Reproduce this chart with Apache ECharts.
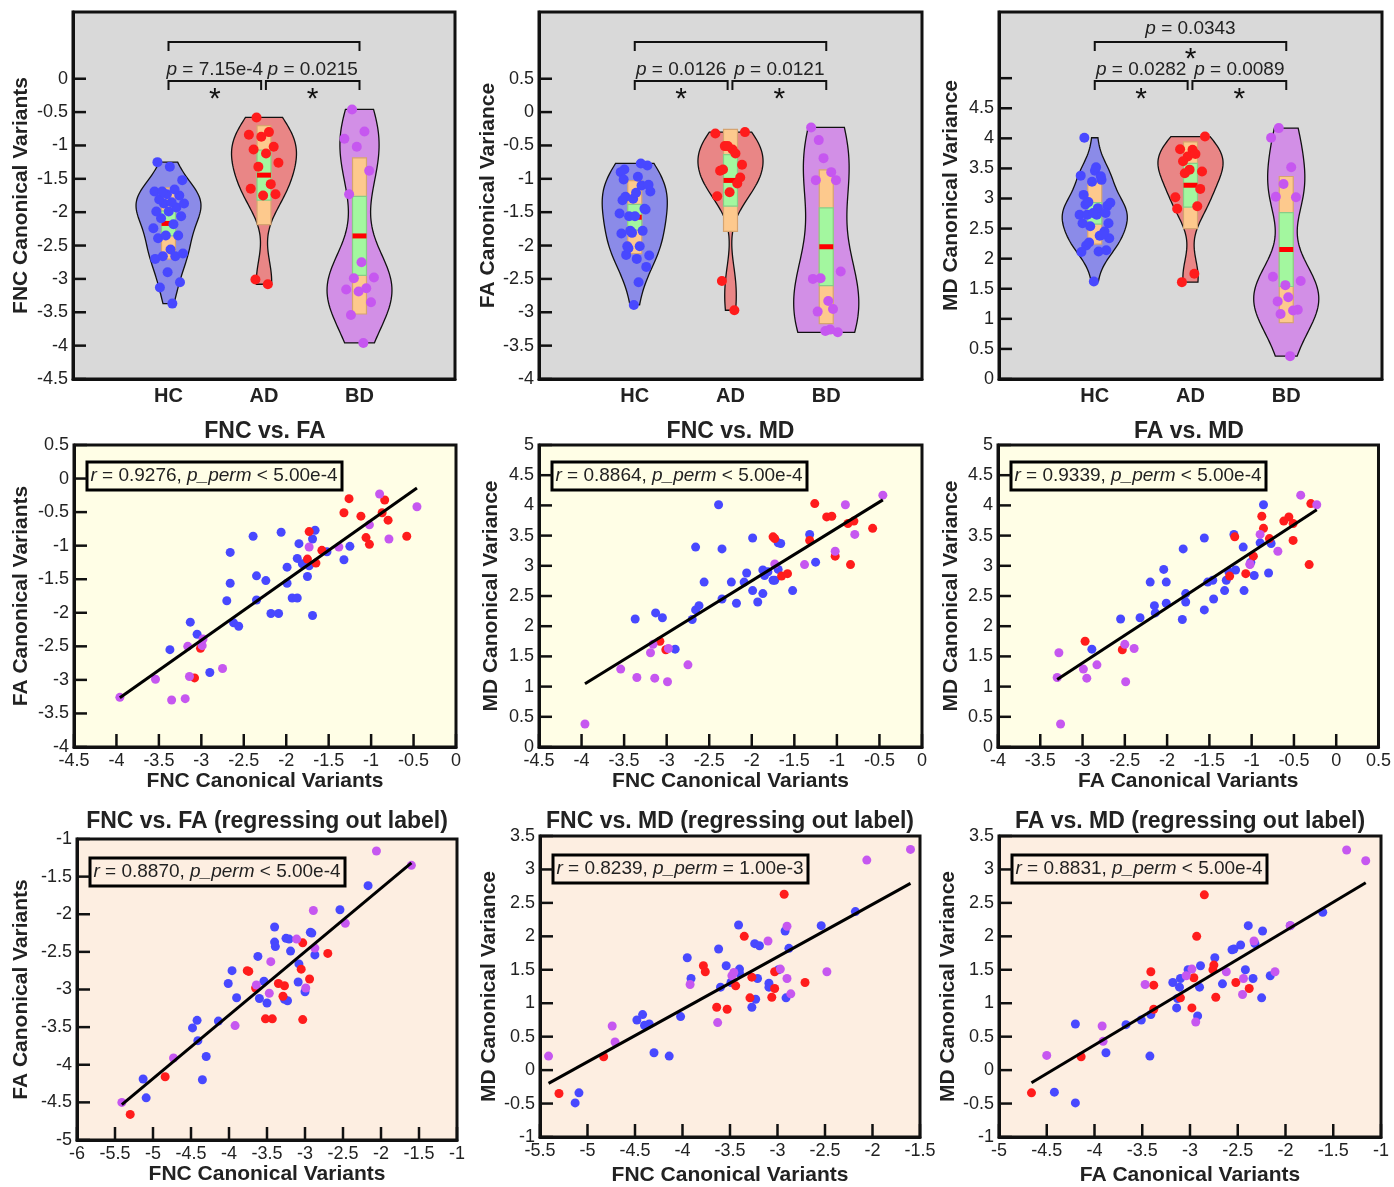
<!DOCTYPE html>
<html>
<head>
<meta charset="utf-8">
<script src="https://cdn.jsdelivr.net/npm/echarts@6/dist/echarts.min.js"></script>
<style>
  html, body { margin: 0; padding: 0; background: #fff; }
  #chart { width: 1394px; height: 1187px; }
</style>
</head>
<body>
<div id="chart"></div>
<script>
// ---- canonical variants per subject ----
const groupNames = ['HC', 'AD', 'BD'];

const hcFNC = [-3.37,-3.13,-3.05,-2.90,-2.70,-2.66,-2.66,-2.62,-2.56,-2.39,-2.35,-2.35,-2.24,-2.18,-2.09,-2.06,-1.99,-1.99,-1.93,-1.87,-1.87,-1.85,-1.81,-1.75,-1.73,-1.69,-1.66,-1.69,-1.52,-1.32,-1.25];
const hcFA  = [-2.55,-2.14,-2.32,-2.89,-1.82,-1.10,-1.56,-2.15,-2.20,-0.86,-1.45,-1.81,-1.52,-2.01,-2.01,-0.80,-1.56,-1.32,-1.78,-1.78,-1.19,-0.97,-1.27,-1.46,-1.30,-0.90,-0.77,-2.04,-1.09,-1.21,-1.01];
const hcMD  = [2.12,2.22,2.14,1.62,2.11,3.31,2.27,2.34,2.73,4.01,2.45,3.28,2.73,2.38,2.73,2.88,3.46,2.59,2.40,2.54,2.93,2.84,2.90,2.76,2.76,3.38,3.37,2.94,2.59,3.52,3.06];

const adFNC = [-3.08,-3.01,-1.73,-1.75,-1.65,-1.58,-1.32,-1.26,-1.12,-1.06,-1.02,-0.87,-0.84,-0.80,-0.58];
const adFA  = [-2.97,-2.53,-0.79,-1.20,-1.26,-1.07,-0.51,-0.30,-0.56,-0.88,-0.98,-0.51,-0.32,-0.62,-0.86];
const adMD  = [1.75,1.61,3.45,3.48,2.83,2.87,3.42,4.03,3.81,3.82,3.16,3.70,3.02,3.74,3.62];

const bdFNC = [-3.96,-3.54,-3.35,-3.19,-3.16,-3.14,-2.99,-2.98,-2.75,-1.73,-1.38,-1.02,-0.90,-0.79,-0.46];
const bdFA  = [-3.26,-2.99,-3.30,-3.28,-2.50,-2.95,-2.49,-2.39,-2.83,-1.02,-1.02,-0.69,-0.23,-0.90,-0.42];
const bdMD  = [0.38,1.29,1.15,1.56,1.70,1.14,1.08,1.63,1.36,3.03,3.02,3.24,4.01,3.52,4.17];

// ---- after regressing out label: [x, y] pairs ----
const hcFncFaR = [[-5.13,-4.19],[-5.09,-4.44],[-4.48,-3.51],[-4.42,-3.41],[-4.41,-3.68],[-4.35,-4.20],[-4.30,-3.89],[-4.14,-3.42],[-4.01,-2.92],[-3.96,-2.75],[-3.90,-3.11],[-3.62,-2.56],[-3.60,-3.12],[-3.54,-2.89],[-3.50,-3.18],[-3.40,-2.17],[-3.40,-2.37],[-3.39,-2.43],[-3.25,-2.32],[-3.21,-2.33],[-3.27,-3.13],[-3.23,-3.15],[-3.19,-2.49],[-3.08,-2.66],[-3.09,-2.90],[-3.00,-3.03],[-2.93,-2.24],[-2.91,-2.25],[-2.87,-2.54],[-2.54,-1.94],[-2.17,-1.62]];
const adFncFaR = [[-5.30,-4.66],[-4.84,-4.16],[-3.76,-2.75],[-3.74,-2.76],[-3.65,-2.98],[-3.52,-3.39],[-3.43,-3.39],[-3.35,-2.92],[-3.27,-2.95],[-3.29,-3.09],[-3.03,-2.38],[-3.05,-2.73],[-3.03,-3.40],[-2.94,-2.86],[-2.70,-2.52]];
const bdFncFaR = [[-5.41,-4.50],[-4.73,-3.91],[-3.92,-3.48],[-3.64,-2.94],[-3.45,-2.63],[-3.47,-3.05],[-3.11,-2.33],[-2.99,-2.98],[-2.89,-1.95],[-2.87,-2.45],[-2.47,-2.12],[-2.06,-1.16],[-1.60,-1.35]];

const hcFncMdR = [[-5.13,-0.49],[-5.09,-0.34],[-4.48,0.75],[-4.42,0.83],[-4.40,0.67],[-4.35,0.69],[-4.30,0.26],[-4.14,0.21],[-4.02,0.80],[-3.95,1.68],[-3.91,1.37],[-3.62,1.81],[-3.60,1.24],[-3.54,1.56],[-3.49,1.31],[-3.41,2.17],[-3.40,1.51],[-3.40,1.45],[-3.24,1.89],[-3.19,1.86],[-3.27,0.94],[-3.23,1.06],[-3.21,1.37],[-3.09,1.30],[-3.09,1.24],[-2.99,1.50],[-2.92,2.08],[-2.91,1.08],[-2.88,1.82],[-2.54,2.16],[-2.18,2.37]];
const adFncMdR = [[-5.30,-0.35],[-4.83,0.20],[-3.78,1.56],[-3.76,1.47],[-3.64,0.94],[-3.53,0.91],[-3.44,1.26],[-3.35,2.00],[-3.29,1.08],[-3.27,1.39],[-3.06,1.09],[-3.03,1.47],[-3.03,1.22],[-2.93,2.63],[-2.71,1.31]];
const bdFncMdR = [[-5.41,0.21],[-4.74,0.66],[-4.71,0.42],[-3.92,1.28],[-3.63,0.71],[-3.48,1.41],[-3.46,1.46],[-3.10,1.93],[-2.97,1.51],[-2.90,2.15],[-2.90,1.37],[-2.86,1.14],[-2.48,1.47],[-2.06,3.14],[-1.60,3.30]];

const hcFaMdR = [[-4.42,-0.33],[-4.20,-0.49],[-4.20,0.69],[-3.88,0.26],[-3.67,0.68],[-3.51,0.75],[-3.42,0.21],[-3.41,0.83],[-3.18,1.31],[-3.14,0.93],[-3.13,1.07],[-3.11,1.24],[-3.10,1.37],[-3.02,1.50],[-2.92,0.81],[-2.90,1.24],[-2.89,1.56],[-2.74,1.68],[-2.66,1.29],[-2.56,1.80],[-2.54,1.81],[-2.47,1.87],[-2.42,1.50],[-2.39,2.16],[-2.34,1.37],[-2.32,1.89],[-2.25,1.08],[-2.24,2.08],[-2.16,1.41],[-1.95,2.16],[-1.61,2.36]];
const adFaMdR = [[-4.66,-0.34],[-4.14,0.20],[-3.41,1.47],[-3.38,1.27],[-3.38,0.91],[-3.10,1.08],[-2.98,0.93],[-2.96,1.38],[-2.93,2.00],[-2.85,2.62],[-2.75,1.57],[-2.76,1.50],[-2.73,1.09],[-2.52,1.31],[-2.38,1.22]];
const bdFaMdR = [[-4.50,0.22],[-3.92,0.66],[-3.91,0.43],[-3.47,1.28],[-3.04,1.41],[-2.98,1.51],[-2.94,0.72],[-2.62,1.47],[-2.44,1.37],[-2.45,1.13],[-2.33,1.93],[-2.11,1.47],[-1.95,2.16],[-1.36,3.29],[-1.16,3.13]];

// group comparison p values (shown above the violins)
const fncPvals = ['7.15e-4', '0.0215', null];
const faPvals  = ['0.0126', '0.0121', null];
const mdPvals  = ['0.0282', '0.0089', '0.0343'];

const corrText = [
  '{i|r} = 0.9276, {i|p_perm} < 5.00e-4',
  '{i|r} = 0.8864, {i|p_perm} < 5.00e-4',
  '{i|r} = 0.9339, {i|p_perm} < 5.00e-4',
  '{i|r} = 0.8870, {i|p_perm} < 5.00e-4',
  '{i|r} = 0.8239, {i|p_perm} = 1.00e-3',
  '{i|r} = 0.8831, {i|p_perm} < 5.00e-4'
];

// ---- styling ----
const FONT = '"Liberation Sans", Arial, Helvetica, sans-serif';
const POINT = ['#4848ff', '#ff1c1c', '#c657f0'];
const VIOLIN = ['#8b8be8', '#e98686', '#d28fe6'];
const INK = '#111';

const grids = [
  { left: 73,  top: 12,  width: 382, height: 367, bg: '#d9d9d9' },
  { left: 539, top: 12,  width: 383, height: 367, bg: '#d9d9d9' },
  { left: 999, top: 12,  width: 383, height: 367, bg: '#d9d9d9' },
  { left: 74,  top: 445, width: 382, height: 302, bg: '#fffee6' },
  { left: 539, top: 445, width: 383, height: 302, bg: '#fffee6' },
  { left: 998, top: 445, width: 382, height: 302, bg: '#fffee6' },
  { left: 77,  top: 839, width: 380, height: 301, bg: '#fdeee1' },
  { left: 540, top: 836, width: 380, height: 301, bg: '#fdeee1' },
  { left: 999, top: 836, width: 382, height: 302, bg: '#fdeee1' }
];

const steps = (a, b) => { const r = []; for (let v = a; v <= b + 1e-9; v += 0.5) r.push(+v.toFixed(2)); return r; };

// ---- helpers ----
function median(a) {
  const s = [...a].sort((x, y) => x - y), m = s.length >> 1;
  return s.length % 2 ? s[m] : (s[m - 1] + s[m]) / 2;
}
function stats(v) {
  const n = v.length;
  const mean = v.reduce((a, b) => a + b, 0) / n;
  const sd = Math.sqrt(v.reduce((a, b) => a + (b - mean) ** 2, 0) / (n - 1));
  return { mean, sd, ci: 1.96 * sd / Math.sqrt(n) };
}
function kde(v) {
  const n = v.length, med = median(v);
  const sig = median(v.map(x => Math.abs(x - med))) / 0.6745;
  const h = sig * Math.pow(4 / (3 * n), 0.2);
  const lo = Math.min(...v), hi = Math.max(...v), out = [];
  for (let k = 0; k <= 80; k++) {
    const y = lo + (hi - lo) * k / 80;
    let d = 0;
    for (const x of v) d += Math.exp(-0.5 * ((y - x) / h) ** 2);
    out.push([y, d]);
  }
  const m = Math.max(...out.map(o => o[1]));
  return out.map(([y, d]) => [y, d / m]);
}
function fit(points) {
  const n = points.length;
  const mx = points.reduce((a, p) => a + p[0], 0) / n;
  const my = points.reduce((a, p) => a + p[1], 0) / n;
  let sxy = 0, sxx = 0;
  points.forEach(([x, y]) => { sxy += (x - mx) * (y - my); sxx += (x - mx) ** 2; });
  const b = sxy / sxx, a = my - b * mx;
  const xs = points.map(p => p[0]);
  const x0 = Math.min(...xs), x1 = Math.max(...xs);
  return [[x0, a + b * x0], [x1, a + b * x1]];
}

const labelStyle = () => ({ fontSize: 18, fontFamily: FONT, color: '#222' });
const nameStyle = () => ({ fontSize: 21, fontWeight: 'bold', fontFamily: FONT, color: '#222' });
const frameLine = () => ({ show: true, onZero: false, lineStyle: { color: INK, width: 3 } });

function yAxis(gi, min, max, name, nameGap, labels) {
  return {
    type: 'value', gridIndex: gi, min, max, name, nameLocation: 'middle', nameGap,
    nameTextStyle: nameStyle(), axisLine: frameLine(), splitLine: { show: false }, axisTick: { show: false },
    axisLabel: Object.assign({ customValues: labels, margin: 5 }, labelStyle())
  };
}
function xAxis(gi, min, max, name, nameGap) {
  return {
    type: 'value', gridIndex: gi, min, max, name, nameLocation: 'middle', nameGap,
    nameTextStyle: nameStyle(), axisLine: frameLine(), splitLine: { show: false }, axisTick: { show: false },
    axisLabel: Object.assign({ customValues: steps(min, max), margin: 5 }, labelStyle())
  };
}
function groupAxis(gi) {
  return {
    type: 'value', gridIndex: gi, min: 0, max: 4,
    axisLine: frameLine(), splitLine: { show: false }, axisTick: { show: false },
    axisLabel: { customValues: [1, 2, 3], formatter: v => groupNames[v - 1], margin: 7,
      fontSize: 20, fontWeight: 'bold', fontFamily: FONT, color: '#222' }
  };
}

// inward tick marks, drawn as one group anchored on a point inside the plot
function tickSeries(gi, xTicks, yTicks, xMin, yMin, xMid, yMid) {
  return {
    type: 'custom', xAxisIndex: gi, yAxisIndex: gi, z: 8, silent: true, clip: false,
    data: [[xMid, yMid]],
    renderItem(params, api) {
      const L = 13, ch = [];
      xTicks.forEach(v => {
        const p = api.coord([v, yMin]);
        ch.push({ type: 'polyline', shape: { points: [[p[0], p[1]], [p[0], p[1] - L]] },
          style: { stroke: INK, lineWidth: 2.5, fill: null } });
      });
      yTicks.forEach(v => {
        const p = api.coord([xMin, v]);
        ch.push({ type: 'polyline', shape: { points: [[p[0], p[1]], [p[0] + L, p[1]]] },
          style: { stroke: INK, lineWidth: 2.5, fill: null } });
      });
      return { type: 'group', children: ch };
    }
  };
}

function violinSeries(gi, sets) {
  const items = sets.map((vals, i) => ({ x: i + 1, s: stats(vals), k: kde(vals), fill: VIOLIN[i] }));
  return {
    type: 'custom', xAxisIndex: gi, yAxisIndex: gi, z: 2, silent: true,
    data: items.map(it => [it.x, it.s.mean]),
    renderItem(params, api) {
      const it = items[params.dataIndex], W = 0.34, B = 0.073, s = it.s;
      const right = it.k.map(([y, w]) => api.coord([it.x + w * W, y]));
      const left = it.k.slice().reverse().map(([y, w]) => api.coord([it.x - w * W, y]));
      const box = (lo, hi, fill, stroke) => {
        const p0 = api.coord([it.x - B, hi]), p1 = api.coord([it.x + B, lo]);
        return { type: 'rect', shape: { x: p0[0], y: p0[1], width: p1[0] - p0[0], height: p1[1] - p0[1] },
          style: { fill, stroke, lineWidth: 1.2 } };
      };
      const m0 = api.coord([it.x - B, s.mean]), m1 = api.coord([it.x + B, s.mean]);
      return { type: 'group', children: [
        { type: 'polygon', shape: { points: right.concat(left) }, style: { fill: it.fill, stroke: INK, lineWidth: 1.3 } },
        box(s.mean - s.sd, s.mean + s.sd, '#fdc98d', '#d6a470'),
        box(s.mean - s.ci, s.mean + s.ci, '#a3f79f', '#88cc88'),
        { type: 'line', shape: { x1: m0[0], y1: m0[1], x2: m1[0], y2: m1[1] }, style: { stroke: '#ff0000', lineWidth: 5 } }
      ] };
    }
  };
}

function violinPoints(gi, sets) {
  return sets.map((vals, g) => ({
    type: 'scatter', xAxisIndex: gi, yAxisIndex: gi, z: 4, symbolSize: 10, silent: true,
    itemStyle: { color: POINT[g], opacity: 1 },
    data: vals.map((v, i) => [g + 1 + ((((i + 1) * 0.618034) % 1) - 0.5) * 0.34, v])
  }));
}

// brackets: pixel offsets from the top of the plot frame
function bracketSeries(gi, pvals) {
  const spec = [
    { from: 1, to: 1.97, dy: 69, ty: 58, sy: 88, p: pvals[0] },
    { from: 2.02, to: 3, dy: 69, ty: 58, sy: 88, p: pvals[1] },
    { from: 1, to: 3, dy: 30, ty: 17, sy: 48, p: pvals[2] }
  ];
  return {
    type: 'custom', xAxisIndex: gi, yAxisIndex: gi, z: 6, silent: true, clip: false,
    data: spec.map((b, i) => [i]),
    renderItem(params, api) {
      const b = spec[params.dataIndex], cs = params.coordSys;
      const xa = api.coord([b.from, 0])[0], xb = api.coord([b.to, 0])[0], y0 = cs.y + b.dy, cx = (xa + xb) / 2;
      const ch = [{ type: 'polyline', shape: { points: [[xa, y0 + 9], [xa, y0], [xb, y0], [xb, y0 + 9]] },
        style: { stroke: INK, lineWidth: 2, fill: null } }];
      if (b.p) {
        ch.push({ type: 'text', x: cx, y: cs.y + b.ty, style: {
          text: '{i|p} = ' + b.p, rich: { i: { fontStyle: 'italic', fontSize: 19, fontFamily: FONT, fill: '#222' } },
          fontSize: 19, fontFamily: FONT, fill: '#222', align: 'center', verticalAlign: 'middle' } });
        ch.push({ type: 'text', x: cx, y: cs.y + b.sy, style: {
          text: '*', fontSize: 30, fontFamily: FONT, fill: INK, align: 'center', verticalAlign: 'middle' } });
      }
      return { type: 'group', children: ch };
    }
  };
}

function scatterPanel(gi, sets) {
  const all = [].concat(...sets);
  const out = sets.map((pts, g) => ({
    type: 'scatter', xAxisIndex: gi, yAxisIndex: gi, z: 3, symbolSize: 9, silent: true,
    itemStyle: { color: POINT[g], opacity: 1 }, data: pts
  }));
  out.push({
    type: 'line', xAxisIndex: gi, yAxisIndex: gi, z: 5, silent: true, showSymbol: false,
    lineStyle: { color: '#000', width: 3 }, data: fit(all)
  });
  return out;
}

const zip = (xs, ys) => xs.map((x, i) => [x, ys[i]]);

// ---- axes ----
const xAxes = [
  groupAxis(0), groupAxis(1), groupAxis(2),
  xAxis(3, -4.5, 0, 'FNC Canonical Variants', 24),
  xAxis(4, -4.5, 0, 'FNC Canonical Variants', 24),
  xAxis(5, -4, 0.5, 'FA Canonical Variants', 24),
  xAxis(6, -6, -1, 'FNC Canonical Variants', 24),
  xAxis(7, -5.5, -1.5, 'FNC Canonical Variants', 28),
  xAxis(8, -5, -1, 'FA Canonical Variants', 28)
];
const yAxes = [
  yAxis(0, -4.5, 1, 'FNC Canonical Variants', 41, steps(-4.5, 0)),
  yAxis(1, -4, 1.5, 'FA Canonical Variance', 38, steps(-4, 0.5)),
  yAxis(2, 0, 6.1, 'MD Canonical Variance', 37, steps(0, 4.5)),
  yAxis(3, -4, 0.5, 'FA Canonical Variants', 42, steps(-4, 0.5)),
  yAxis(4, 0, 5, 'MD Canonical Variance', 37, steps(0, 5)),
  yAxis(5, 0, 5, 'MD Canonical Variance', 36, steps(0, 5)),
  yAxis(6, -5, -1, 'FA Canonical Variants', 45, steps(-5, -1)),
  yAxis(7, -1, 3.5, 'MD Canonical Variance', 38, steps(-1, 3.5)),
  yAxis(8, -1, 3.5, 'MD Canonical Variance', 37, steps(-1, 3.5))
];

// ---- series ----
const fncSets = [hcFNC, adFNC, bdFNC];
const faSets = [hcFA, adFA, bdFA];
const mdSets = [hcMD, adMD, bdMD];

const series = [].concat(
  violinSeries(0, fncSets), violinPoints(0, fncSets), bracketSeries(0, fncPvals),
  violinSeries(1, faSets), violinPoints(1, faSets), bracketSeries(1, faPvals),
  violinSeries(2, mdSets), violinPoints(2, mdSets), bracketSeries(2, mdPvals),
  scatterPanel(3, [zip(hcFNC, hcFA), zip(adFNC, adFA), zip(bdFNC, bdFA)]),
  scatterPanel(4, [zip(hcFNC, hcMD), zip(adFNC, adMD), zip(bdFNC, bdMD)]),
  scatterPanel(5, [zip(hcFA, hcMD), zip(adFA, adMD), zip(bdFA, bdMD)]),
  scatterPanel(6, [hcFncFaR, adFncFaR, bdFncFaR]),
  scatterPanel(7, [hcFncMdR, adFncMdR, bdFncMdR]),
  scatterPanel(8, [hcFaMdR, adFaMdR, bdFaMdR]),
  tickSeries(0, [], steps(-4.5, 0), 0, -4.5, 2, -2),
  tickSeries(1, [], steps(-4, 0.5), 0, -4, 2, -2),
  tickSeries(2, [], steps(0, 5), 0, 0, 2, 3),
  tickSeries(3, steps(-4.5, 0), steps(-4, 0.5), -4.5, -4, -2, -2),
  tickSeries(4, steps(-4.5, 0), steps(0, 5), -4.5, 0, -2, 2.5),
  tickSeries(5, steps(-4, 0.5), steps(0, 5), -4, 0, -2, 2.5),
  tickSeries(6, steps(-6, -1), steps(-5, -1), -6, -5, -3.5, -3),
  tickSeries(7, steps(-5.5, -1.5), steps(-1, 3.5), -5.5, -1, -3.5, 1),
  tickSeries(8, steps(-5, -1), steps(-1, 3.5), -5, -1, -3, 1)
);

// ---- titles and r / p_perm boxes ----
const panelTitles = ['FNC vs. FA', 'FNC vs. MD', 'FA vs. MD',
  'FNC vs. FA (regressing out label)', 'FNC vs. MD (regressing out label)', 'FA vs. MD (regressing out label)'];
const graphic = [];
panelTitles.forEach((t, i) => {
  const g = grids[i + 3];
  graphic.push({ type: 'text', x: g.left + g.width / 2, y: i < 3 ? 432 : 822, silent: true,
    style: { text: t, fontSize: 23, fontWeight: 'bold', fontFamily: FONT, fill: '#222', align: 'center', verticalAlign: 'middle' } });
  const bx = g.left + 13, by = g.top + (i < 3 ? 17 : 19);
  graphic.push({ type: 'rect', silent: true, shape: { x: bx, y: by, width: 255, height: 28 },
    style: { fill: 'none', stroke: '#000', lineWidth: 3 } });
  graphic.push({ type: 'text', x: bx + 127, y: by + 14, silent: true,
    style: { text: corrText[i], rich: { i: { fontStyle: 'italic', fontSize: 19, fontFamily: FONT, fill: '#222' } },
      fontSize: 19, fontFamily: FONT, fill: '#222', align: 'center', verticalAlign: 'middle' } });
});

const chart = echarts.init(document.getElementById('chart'));
chart.setOption({
  animation: false,
  backgroundColor: '#fff',
  grid: grids.map(g => ({ left: g.left, top: g.top, width: g.width, height: g.height,
    show: true, backgroundColor: g.bg, borderColor: INK, borderWidth: 3 })),
  xAxis: xAxes,
  yAxis: yAxes,
  series,
  graphic
});
window.addEventListener('resize', () => chart.resize());
</script>
</body>
</html>
